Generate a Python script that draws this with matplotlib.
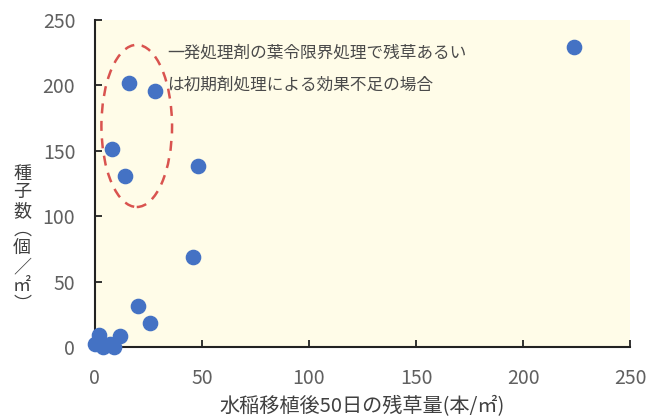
import matplotlib
matplotlib.use('Agg')

import matplotlib.pyplot as plt
from matplotlib.patches import Ellipse

plt.rcParams['font.family'] = ['Noto Sans CJK JP', 'DejaVu Sans']

# Residual weeds 50 days after transplanting vs. seed count
weeds = [0, 2, 4, 7, 9, 12, 16, 28, 8, 14, 48, 46, 20, 26, 224]
seeds = [2, 9, 0, 2, 0, 8, 202, 196, 151, 131, 138, 69, 31, 18, 229]

note_lines = ['一発処理剤の葉令限界処理で残草あるい', 'は初期剤処理による効果不足の場合']
x_label = '水稲移植後50日の残草量(本/㎡)'
y_label_chars = ['種', '子', '数', '︵', '個', '／', '㎡', '︶']
x_ticks = [0, 50, 100, 150, 200, 250]
y_ticks = [0, 50, 100, 150, 200, 250]

fig = plt.figure(figsize=(6.49, 4.16), dpi=100)
ax = fig.add_axes([0.146, 0.166, 0.825, 0.786])
ax.set_facecolor('#fffce8')

ax.scatter(weeds, seeds, s=105, color='#4472c4', zorder=3, clip_on=False)

# dashed ellipse around the high-seed group
ax.add_patch(Ellipse((19.6, 169), 33, 124, fill=False, edgecolor='#d9534f',
                     linestyle=(0, (4, 3)), linewidth=1.8, zorder=2))

ax.text(34, 225, note_lines[0], fontsize=12, color='#4a4a4a', va='center')
ax.text(34, 200, note_lines[1], fontsize=12, color='#4a4a4a', va='center')

ax.set_xlim(0, 250)
ax.set_ylim(0, 250)
ax.set_xticks(x_ticks)
ax.set_yticks(y_ticks)
ax.tick_params(direction='in', length=5, width=1.3, colors='#222222',
               labelcolor='#606060', labelsize=14)
ax.tick_params(axis='x', pad=15)
ax.tick_params(axis='y', pad=14)
ax.spines['top'].set_visible(False)
ax.spines['right'].set_visible(False)
for side in ('left', 'bottom'):
    ax.spines[side].set_linewidth(1.5)
    ax.spines[side].set_color('#222222')

ax.set_xlabel(x_label, fontsize=14.5, color='#404040', labelpad=5)
fig.text(0.034, 0.425, '\n'.join(y_label_chars), fontsize=13, color='#404040',
         ha='center', va='center', linespacing=1.05)

fig.savefig('out.png', dpi=100)
